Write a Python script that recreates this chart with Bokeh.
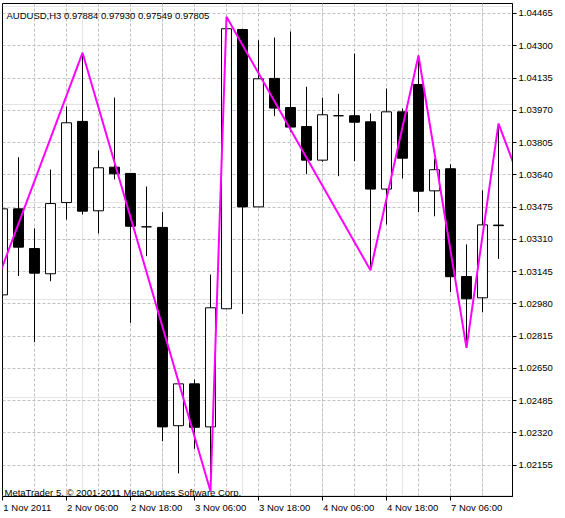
from bokeh.plotting import figure
from bokeh.models import (Range1d, LinearAxis, FixedTicker, PrintfTickFormatter,
                          Grid, Label, ColumnDataSource)
from bokeh.embed import file_html
from bokeh.resources import INLINE

# ---- data (AUDUSD H3 candles, bar index 0 = 1 Nov 2011 18:00) ----
bars = list(range(32))
opens = [1.03026, 1.03466, 1.03263, 1.03134, 1.03498, 1.03913, 1.03456, 1.03679,
         1.03647, 1.03374, 1.03371, 1.02357, 1.02571, 1.02351, 1.02955, 1.04383,
         1.03476, 1.04133, 1.03984, 1.03887, 1.03715, 1.03942, 1.03942, 1.03911,
         1.03567, 1.03962, 1.04102, 1.03558, 1.03671, 1.03120, 1.03011, 1.03383]
highs = [1.03466, 1.03730, 1.03366, 1.03667, 1.03989, 1.04264, 1.03764, 1.04035,
         1.03647, 1.03580, 1.03449, 1.02571, 1.02593, 1.03130, 1.04448, 1.04387,
         1.04328, 1.04342, 1.04373, 1.04090, 1.04034, 1.04054, 1.04260, 1.03954,
         1.04081, 1.03979, 1.04250, 1.03722, 1.03694, 1.03284, 1.03560, 1.03902]
lows = [1.03026, 1.03122, 1.02784, 1.03096, 1.03411, 1.03437, 1.03340, 1.03616,
        1.02883, 1.03224, 1.02278, 1.02113, 1.02239, 1.02022, 1.02955, 1.02929,
        1.03476, 1.03940, 1.03858, 1.03643, 1.03707, 1.03633, 1.03710, 1.03152,
        1.03386, 1.03621, 1.03449, 1.03428, 1.03040, 1.02755, 1.02937, 1.03210]
closes = [1.03466, 1.03270, 1.03137, 1.03493, 1.03906, 1.03454, 1.03676, 1.03645,
          1.03377, 1.03374, 1.02351, 1.02571, 1.02349, 1.02960, 1.04387, 1.03476,
          1.04131, 1.03981, 1.03884, 1.03715, 1.03947, 1.03942, 1.03909, 1.03567,
          1.03962, 1.03725, 1.03556, 1.03666, 1.03119, 1.03006, 1.03384, 1.03380]

# ZigZag indicator vertices (bar index, price)
zz_bars = [-1, 5, 13, 14, 23, 26, 29, 31, 33]
zz_prices = [1.02953, 1.04264, 1.02022, 1.04448, 1.03152, 1.04250, 1.02755, 1.03902, 1.03466]

price_ticks = [1.04465, 1.04300, 1.04135, 1.03970, 1.03805, 1.03640, 1.03475, 1.03310,
               1.03145, 1.02980, 1.02815, 1.02650, 1.02485, 1.02320, 1.02155]
time_ticks = [0, 4, 8, 12, 16, 20, 24, 28]
time_labels = ["1 Nov 2011", "2 Nov 06:00", "2 Nov 18:00", "3 Nov 06:00",
               "3 Nov 18:00", "4 Nov 06:00", "4 Nov 18:00", "7 Nov 06:00"]
vgrid_bars = [2, 4, 6, 8, 10, 12, 14, 16, 18, 20, 22, 24, 26, 28, 30]

header_text = "AUDUSD,H3  0.97884 0.97930 0.97549 0.97805"
footer_text = "MetaTrader 5, \u00a9 2001-2011 MetaQuotes Software Corp."

FONT = "Liberation Sans"
FS_PX = 9.5
FS = f"{FS_PX}px"
PX_PER_BAR = 16.0   # frame_width 510 px / 31.875 bars

# approximate Liberation Sans advance widths (em/1000) to left-align time labels
_W = {" ": 278, "N": 722, "o": 556, "v": 500, ":": 278}
def text_width_px(s):
    return sum(_W.get(ch, 556) for ch in s) * FS_PX / 1000.0

# time-axis label anchors: centred labels shifted so they start just right of each tick
label_anchor = [t + (text_width_px(l) / 2 + 0.5) / PX_PER_BAR
                for t, l in zip(time_ticks, time_labels)]

src = ColumnDataSource(dict(
    x=bars,
    high=highs,
    low=lows,
    top=[max(o, c) for o, c in zip(opens, closes)],
    bottom=[min(o, c) for o, c in zip(opens, closes)],
    fill=["black" if c < o else "white" for o, c in zip(opens, closes)],
))

p = figure(frame_width=510, frame_height=493,
           x_range=Range1d(0, 31.875), y_range=Range1d(1.01995, 1.04516),
           output_backend="svg", toolbar_location=None,
           x_axis_location=None, y_axis_location=None,
           min_border_left=2, min_border_top=3,
           min_border_right=45, min_border_bottom=14)
p.outline_line_color = "black"
p.outline_line_alpha = 1.0
p.outline_line_width = 1
p.background_fill_color = "white"
p.border_fill_color = "white"

# grids
p.add_layout(Grid(dimension=1, ticker=FixedTicker(ticks=price_ticks),
                  grid_line_color="#C0C0C0", grid_line_dash="3 2"))
p.add_layout(Grid(dimension=0, ticker=FixedTicker(ticks=vgrid_bars),
                  grid_line_color="#C0C0C0", grid_line_dash="3 2"))

# right price axis
yax = LinearAxis(ticker=FixedTicker(ticks=price_ticks),
                 formatter=PrintfTickFormatter(format="%.5f"),
                 major_tick_out=4, major_tick_in=0,
                 minor_tick_out=0, minor_tick_in=0,
                 axis_line_color="black", major_tick_line_color="black",
                 major_label_standoff=2,
                 major_label_text_font=FONT, major_label_text_font_size=FS,
                 major_label_text_color="black")
p.add_layout(yax, "right")

# bottom time axis: tick marks drawn as minor ticks at bar positions,
# labels on (invisible) major ticks placed so the text starts at each tick mark
xax = LinearAxis(ticker=FixedTicker(ticks=label_anchor, minor_ticks=time_ticks),
                 major_label_overrides={a: l for a, l in zip(label_anchor, time_labels)},
                 major_tick_out=0, major_tick_in=0, major_tick_line_color=None,
                 minor_tick_out=4, minor_tick_in=0, minor_tick_line_color="black",
                 axis_line_color="black",
                 major_label_standoff=1,
                 major_label_text_font=FONT, major_label_text_font_size=FS,
                 major_label_text_color="black")
p.add_layout(xax, "below")

# candles
p.segment(x0="x", y0="low", x1="x", y1="high", source=src,
          line_color="black", line_width=1)
p.vbar(x="x", width=0.62, top="top", bottom="bottom", source=src,
       fill_color="fill", line_color="black", line_width=1)

# zigzag
p.line(zz_bars, zz_prices, line_color="#FF00FF", line_width=2)

# texts
p.add_layout(Label(x=4, y=481.5, x_units="screen", y_units="screen",
                   text=header_text, text_font=FONT, text_font_size=FS,
                   text_color="black", text_baseline="alphabetic", text_align="left"))
p.add_layout(Label(x=2, y=3.7, x_units="screen", y_units="screen",
                   text=footer_text, text_font=FONT, text_font_size=FS,
                   text_color="black", text_baseline="alphabetic", text_align="left"))

open("out.html", "w").write(file_html(p, INLINE))
